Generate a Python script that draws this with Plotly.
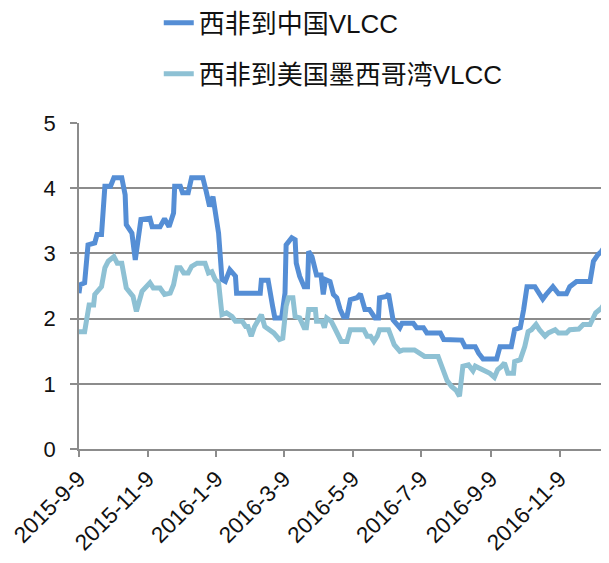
import plotly.graph_objects as go

# 西非到中国VLCC
dates_cn = ["2015-09-09","2015-09-10","2015-09-14","2015-09-17","2015-09-23","2015-09-25","2015-09-29",
            "2015-10-02","2015-10-07","2015-10-10","2015-10-17","2015-10-20","2015-10-21","2015-10-26",
            "2015-10-29","2015-11-03","2015-11-11","2015-11-13","2015-11-20","2015-11-24","2015-11-28",
            "2015-12-02","2015-12-03","2015-12-08","2015-12-10","2015-12-15","2015-12-18","2015-12-28",
            "2015-12-31","2016-01-03","2016-01-06","2016-01-08","2016-01-11","2016-01-14","2016-01-17",
            "2016-01-21","2016-01-26","2016-01-27","2016-02-17","2016-02-18","2016-02-24","2016-02-28",
            "2016-03-01","2016-03-07","2016-03-10","2016-03-11","2016-03-16","2016-03-19","2016-03-20",
            "2016-03-23","2016-03-27","2016-03-30","2016-03-31","2016-04-03","2016-04-07","2016-04-11",
            "2016-04-13","2016-04-15","2016-04-19","2016-04-22","2016-04-25","2016-04-28","2016-05-01",
            "2016-05-04","2016-05-07","2016-05-13","2016-05-16","2016-05-20","2016-05-24","2016-05-29",
            "2016-06-01","2016-06-02","2016-06-08","2016-06-10","2016-06-14","2016-06-20","2016-06-22",
            "2016-07-02","2016-07-05","2016-07-11","2016-07-14","2016-07-26","2016-07-29","2016-08-14",
            "2016-08-17","2016-08-26","2016-08-29","2016-09-02","2016-09-14","2016-09-17","2016-09-27",
            "2016-09-30","2016-10-05","2016-10-08","2016-10-11","2016-10-18","2016-10-23","2016-10-25",
            "2016-10-28","2016-11-03","2016-11-08","2016-11-15","2016-11-18","2016-11-24","2016-12-06",
            "2016-12-09","2016-12-13","2016-12-16","2016-12-20","2016-12-22"]
values_cn = [2.39,2.52,2.55,3.13,3.16,3.29,3.29,
             4.03,4.03,4.16,4.16,3.90,3.44,3.31,
             2.90,3.52,3.54,3.41,3.41,3.53,3.41,
             3.62,4.03,4.03,3.93,3.93,4.16,4.16,
             3.95,3.72,3.87,3.67,3.31,2.60,2.57,
             2.75,2.65,2.39,2.39,2.59,2.59,2.19,
             2.01,2.01,2.39,3.13,3.24,3.21,2.85,
             2.65,2.49,2.49,3.03,2.95,2.67,2.67,
             2.37,2.60,2.57,2.37,2.32,2.14,2.03,
             2.03,2.29,2.32,2.38,2.14,2.14,2.01,
             2.01,2.32,2.34,2.38,1.98,1.86,1.93,
             1.93,1.86,1.86,1.78,1.78,1.68,1.67,
             1.57,1.57,1.47,1.38,1.38,1.57,1.57,
             1.83,1.86,2.14,2.49,2.49,2.37,2.30,
             2.37,2.49,2.38,2.38,2.49,2.57,2.57,
             2.88,2.98,3.03,3.13,2.90]

# 西非到美国墨西哥湾VLCC
dates_us = ["2015-09-09","2015-09-14","2015-09-18","2015-09-22","2015-09-23","2015-09-26","2015-09-29",
            "2015-10-02","2015-10-05","2015-10-10","2015-10-13","2015-10-17","2015-10-21","2015-10-27",
            "2015-10-30","2015-11-04","2015-11-08","2015-11-11","2015-11-14","2015-11-20","2015-11-24",
            "2015-11-29","2015-12-02","2015-12-05","2015-12-08","2015-12-11","2015-12-15","2015-12-18",
            "2015-12-23","2015-12-30","2016-01-02","2016-01-05","2016-01-08","2016-01-11","2016-01-14",
            "2016-01-18","2016-01-23","2016-01-26","2016-02-01","2016-02-04","2016-02-06","2016-02-09",
            "2016-02-12","2016-02-18","2016-02-21","2016-02-26","2016-02-29","2016-03-05","2016-03-08",
            "2016-03-11","2016-03-13","2016-03-17","2016-03-19","2016-03-23","2016-03-27","2016-03-29",
            "2016-03-31","2016-04-06","2016-04-07","2016-04-12","2016-04-14","2016-04-16","2016-04-20",
            "2016-04-23","2016-04-29","2016-05-04","2016-05-07","2016-05-19","2016-05-22","2016-05-25",
            "2016-05-28","2016-05-31","2016-06-02","2016-06-10","2016-06-15","2016-06-20","2016-06-23",
            "2016-07-03","2016-07-08","2016-07-12","2016-07-24","2016-07-29","2016-08-01","2016-08-05",
            "2016-08-09","2016-08-12","2016-08-15","2016-08-20","2016-08-24","2016-08-26","2016-08-30",
            "2016-09-03","2016-09-08","2016-09-12","2016-09-15","2016-09-18","2016-09-21","2016-09-24",
            "2016-09-29","2016-09-30","2016-10-05","2016-10-09","2016-10-12","2016-10-15","2016-10-19",
            "2016-10-22","2016-10-27","2016-10-30","2016-11-05","2016-11-08","2016-11-15","2016-11-18",
            "2016-11-26","2016-11-30","2016-12-06","2016-12-11","2016-12-16","2016-12-20","2016-12-22"]
values_us = [1.80,1.80,2.21,2.21,2.37,2.42,2.49,
             2.78,2.88,2.95,2.85,2.85,2.47,2.34,
             2.11,2.42,2.49,2.55,2.47,2.47,2.37,
             2.39,2.52,2.78,2.78,2.70,2.70,2.80,
             2.85,2.85,2.70,2.72,2.60,2.55,2.06,
             2.09,2.03,1.96,1.96,1.88,1.88,1.73,
             1.88,2.06,1.88,1.83,1.78,1.68,1.70,
             2.19,2.32,2.32,2.03,2.01,1.86,1.86,
             2.14,2.14,1.96,1.96,1.86,2.01,1.96,
             1.86,1.65,1.65,1.83,1.83,1.73,1.73,
             1.65,1.73,1.83,1.83,1.60,1.50,1.52,
             1.52,1.46,1.42,1.42,1.20,1.05,0.96,
             0.90,0.81,1.27,1.29,1.20,1.27,1.24,
             1.19,1.16,1.10,1.22,1.26,1.32,1.16,
             1.16,1.34,1.37,1.57,1.80,1.83,1.91,
             1.83,1.73,1.78,1.83,1.78,1.78,1.83,
             1.84,1.91,1.91,2.09,2.16,2.26,2.09]

tick_vals = ["2015-09-09","2015-11-09","2016-01-09","2016-03-09","2016-05-09","2016-07-09","2016-09-09","2016-11-09"]
tick_text = ["2015-9-9","2015-11-9","2016-1-9","2016-3-9","2016-5-9","2016-7-9","2016-9-9","2016-11-9"]

FONT = "Liberation Sans, Arial, Noto Sans CJK SC, sans-serif"

fig = go.Figure()
fig.add_trace(go.Scatter(x=dates_cn, y=values_cn, mode="lines", name="西非到中国VLCC",
                         line=dict(color="#558ED5", width=5), legendgroup="a"))
fig.add_trace(go.Scatter(x=dates_us, y=values_us, mode="lines", name="西非到美国墨西哥湾VLCC",
                         line=dict(color="#8EC1D4", width=5), legendgroup="b"))

# the page body adds an 8px offset, so the figure is sized/margined to compensate
fig.update_layout(
    width=601, height=555,
    margin=dict(l=71, r=0, t=115, b=114, autoexpand=False),
    paper_bgcolor="white", plot_bgcolor="white",
    font=dict(family=FONT, size=22, color="#111"),
    showlegend=True,
    legend=dict(x=0.1505, y=1.379, xanchor="left", yanchor="top", orientation="v",
                font=dict(family=FONT, size=26, color="#111"),
                tracegroupgap=14, traceorder="grouped", bgcolor="rgba(0,0,0,0)"),
    xaxis=dict(type="date", range=["2015-09-09", "2016-12-22 20:00"], automargin=False,
               tickmode="array", tickvals=tick_vals, ticktext=tick_text, tickangle=-45,
               showgrid=False, showline=True, linecolor="#8C8C8C", linewidth=1.5,
               ticks="outside", ticklen=6, tickcolor="#8C8C8C", tickwidth=1.5,
               ticklabeloverflow="allow", tickfont=dict(size=22.5), zeroline=False),
    yaxis=dict(range=[0, 5], dtick=1, tick0=0, showgrid=True, gridcolor="#8C8C8C", gridwidth=1.5,
               showline=True, linecolor="#8C8C8C", linewidth=1.5, automargin=False,
               ticks="outside", ticklen=7, tickcolor="#8C8C8C", tickwidth=1.5,
               ticklabelstandoff=10, tickfont=dict(size=22), zeroline=False),
)

fig.write_html("out.html")
